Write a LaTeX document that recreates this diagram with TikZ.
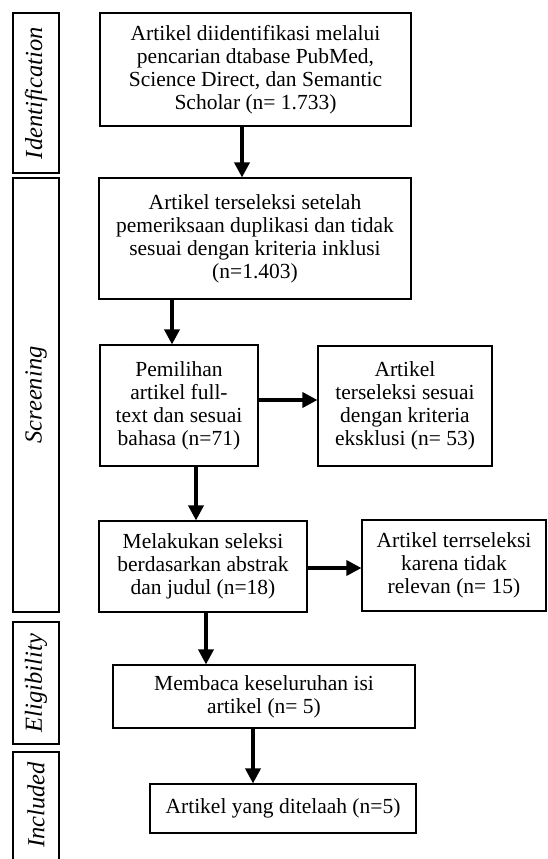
\documentclass[tikz,border=0pt]{standalone}
\usepackage{fontspec}
\setmainfont{Liberation Serif}
\usetikzlibrary{arrows.meta,positioning}
\tikzset{
    flowbox/.style={
        draw=black,
        line width=1.1pt,
        align=center,
        inner sep=0pt,
        font=\fontsize{21.5}{23}\selectfont
    },
    stagebox/.style={
        draw=black,
        line width=1.1pt,
        rotate=90,
        inner sep=0pt,
        minimum height=46pt,
        font=\fontsize{24.5}{26}\selectfont\itshape
    },
    flowarrow/.style={
        line width=3.5pt,
        -{Triangle[width=15pt,length=15pt]}
    }
}
\begin{document}
\begin{tikzpicture}[x=1pt,y=-1pt]
                \useasboundingbox (0,0) rectangle (547,859);
                \node[stagebox, minimum width=160pt] (identification) at (36,93) {Identification};
                \node[stagebox, minimum width=434pt] (screening) at (36,395) {Screening};
                \node[stagebox, minimum width=122pt] (eligibility) at (36,683) {Eligibility};
                \node[rotate=90, inner sep=0pt, font=\fontsize{24.5}{26}\selectfont\itshape] (included) at (36,805) {Included};
                \draw[line width=1.1pt] (13,859) |- (59,752) -- (59,859);
                \node[flowbox, minimum width=311pt, minimum height=113pt] (ident) at (255.5,69.5)
                    {Artikel diidentifikasi melalui\\pencarian dtabase PubMed,\\Science Direct, dan Semantic\\Scholar (n= 1.733)};
                \node[flowbox, minimum width=312pt, minimum height=121pt] (dup) at (255,238.5)
                    {Artikel terseleksi setelah\\pemeriksaan duplikasi dan tidak\\sesuai dengan kriteria inklusi\\(n=1.403)};
                \node[flowbox, minimum width=158pt, minimum height=121pt] (full) at (179,405.5)
                    {Pemilihan\\artikel full-\\text dan sesuai\\bahasa (n=71)};
                \node[flowbox, minimum width=174pt, minimum height=120pt] (excl) at (405,406)
                    {Artikel\\terseleksi sesuai\\dengan kriteria\\eksklusi (n= 53)};
                \node[flowbox, minimum width=208pt, minimum height=91pt] (abs) at (203,566.5)
                    {Melakukan seleksi\\berdasarkan abstrak\\dan judul (n=18)};
                \node[flowbox, minimum width=184pt, minimum height=91pt] (irr) at (454,565.5)
                    {Artikel terrseleksi\\karena tidak\\relevan (n= 15)};
                \node[flowbox, minimum width=302pt, minimum height=63pt] (read) at (264,696.5)
                    {Membaca keseluruhan isi\\artikel (n= 5)};
                \node[flowbox, minimum width=266pt, minimum height=49pt] (incl) at (283,808.5)
                    {Artikel yang ditelaah (n=5)};
                \draw[flowarrow] ([xshift=-13.5pt]ident.south) -- ([xshift=-13pt]dup.north);
                \draw[flowarrow] ([xshift=-83pt]dup.south) -- ([xshift=-7pt]full.north);
                \draw[flowarrow] ([yshift=5.5pt]full.east) -- ([yshift=6pt]excl.west);
                \draw[flowarrow] ([xshift=17pt]full.south) -- ([xshift=-7pt]abs.north);
                \draw[flowarrow] ([yshift=-1.5pt]abs.east) -- ([yshift=-2.5pt]irr.west);
                \draw[flowarrow] ([xshift=3pt]abs.south) -- ([xshift=-58pt]read.north);
                \draw[flowarrow] ([xshift=-11pt]read.south) -- ([xshift=-30pt]incl.north);
\end{tikzpicture}
\end{document}
